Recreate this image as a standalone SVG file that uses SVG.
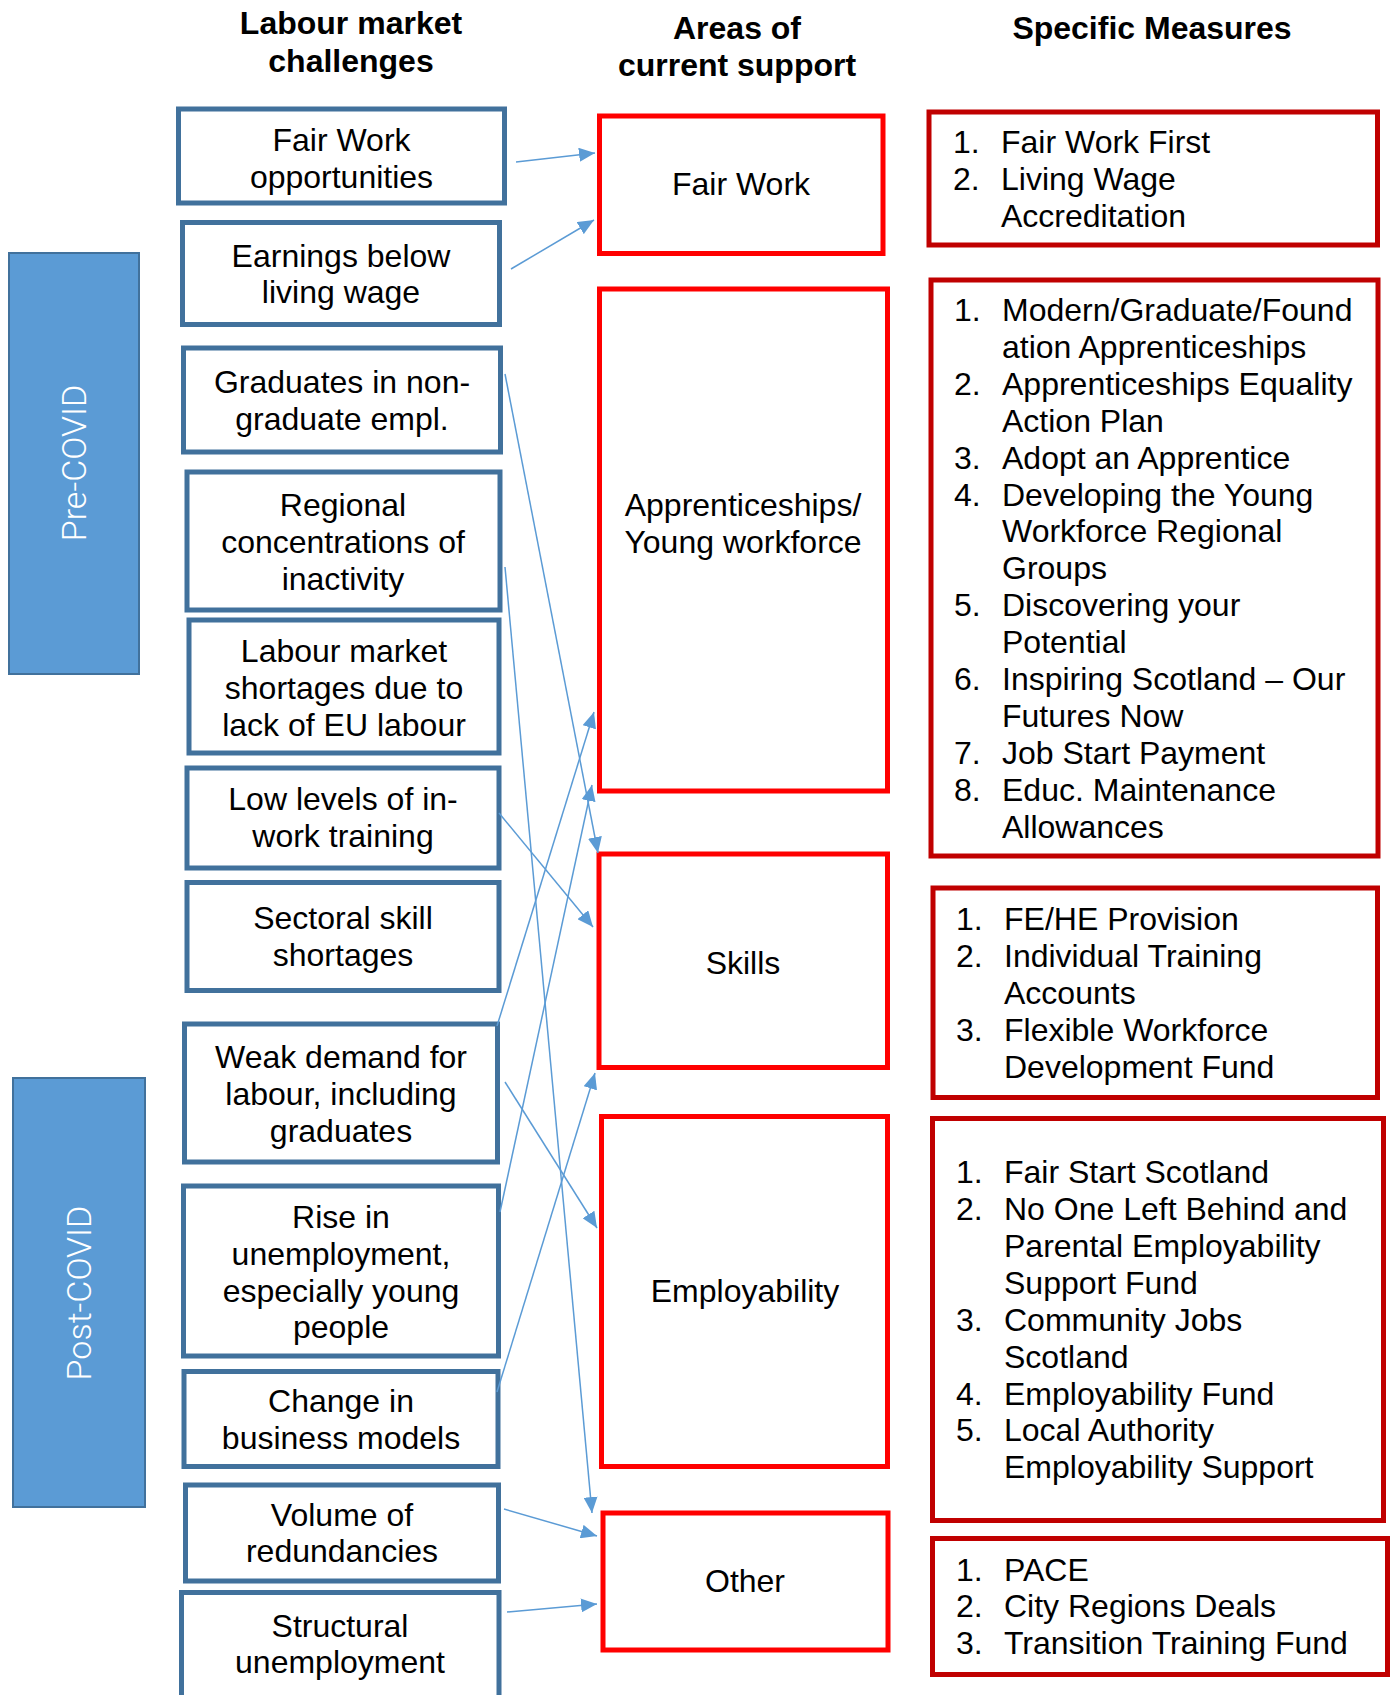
<svg xmlns="http://www.w3.org/2000/svg" width="1392" height="1695" viewBox="0 0 1392 1695">
<defs>
<style>
text{font-family:"Liberation Sans",Arial,sans-serif;font-size:32px;fill:#000}
.h{font-weight:bold;text-anchor:middle}
.c{text-anchor:middle}
.lb{fill:#fff;stroke:#41719C;stroke-width:5}
.mb{fill:#fff;stroke:#FF0000;stroke-width:5}
.rb{fill:#fff;stroke:#C00000;stroke-width:5}
.side{fill:#5B9BD5;stroke:#41719C;stroke-width:2}
.sidet{font-family:Roboto,"Liberation Sans",sans-serif;font-weight:300;font-size:34px;fill:#fff;text-anchor:middle}
.con line{stroke:#5B9BD5;stroke-width:1.5;fill:none;marker-end:url(#ah)}
</style>
<marker id="ah" markerUnits="userSpaceOnUse" markerWidth="16" markerHeight="14" refX="16" refY="7" orient="auto">
<path d="M0,0 L16,7 L0,14 Z" fill="#5B9BD5"/>
</marker>
</defs>
<rect width="1392" height="1695" fill="#fff"/>

<g id="headers">
<text class="h" x="351" y="34">Labour market</text>
<text class="h" x="351" y="72">challenges</text>
<text class="h" x="737" y="39">Areas of</text>
<text class="h" x="737" y="76">current support</text>
<text class="h" x="1152" y="39">Specific Measures</text>
</g>

<g id="pre-covid">
<rect class="side" x="9" y="253" width="130" height="421"/>
<text class="sidet" transform="translate(86,463) rotate(-90)">Pre-COVID</text>
</g>
<g id="post-covid">
<rect class="side" x="13" y="1078" width="132" height="429"/>
<text class="sidet" transform="translate(91,1293) rotate(-90)">Post-COVID</text>
</g>

<g id="c1"><rect class="lb" x="178.5" y="109" width="326" height="94"/>
<text class="c" x="341.5" y="150.7">Fair Work</text><text class="c" x="341.5" y="187.5">opportunities</text></g>
<g id="c2"><rect class="lb" x="182.5" y="222.5" width="317" height="102"/>
<text class="c" x="341" y="266.7">Earnings below</text><text class="c" x="341" y="303.3">living wage</text></g>
<g id="c3"><rect class="lb" x="183.5" y="348" width="317" height="104"/>
<text class="c" x="342" y="392.5">Graduates in non-</text><text class="c" x="342" y="429.5">graduate empl.</text></g>
<g id="c4"><rect class="lb" x="187" y="472" width="313" height="138"/>
<text class="c" x="343" y="515.7">Regional</text><text class="c" x="343" y="553">concentrations of</text><text class="c" x="343" y="590">inactivity</text></g>
<g id="c5"><rect class="lb" x="189" y="620" width="310" height="133"/>
<text class="c" x="344" y="662">Labour market</text><text class="c" x="344" y="699">shortages due to</text><text class="c" x="344" y="736.4">lack of EU labour</text></g>
<g id="c6"><rect class="lb" x="187" y="768" width="312" height="100"/>
<text class="c" x="343" y="810.4">Low levels of in-</text><text class="c" x="343" y="847.1">work training</text></g>
<g id="c7"><rect class="lb" x="187" y="882.5" width="312" height="108"/>
<text class="c" x="343" y="929">Sectoral skill</text><text class="c" x="343" y="965.7">shortages</text></g>
<g id="c8"><rect class="lb" x="184.5" y="1024" width="313" height="138"/>
<text class="c" x="341" y="1068.3">Weak demand for</text><text class="c" x="341" y="1105">labour, including</text><text class="c" x="341" y="1141.5">graduates</text></g>
<g id="c9"><rect class="lb" x="183.5" y="1186" width="315" height="170"/>
<text class="c" x="341" y="1228.3">Rise in</text><text class="c" x="341" y="1265">unemployment,</text><text class="c" x="341" y="1301.7">especially young</text><text class="c" x="341" y="1338.3">people</text></g>
<g id="c10"><rect class="lb" x="184" y="1371.5" width="314" height="95"/>
<text class="c" x="341" y="1412.3">Change in</text><text class="c" x="341" y="1448.5">business models</text></g>
<g id="c11"><rect class="lb" x="185.5" y="1485" width="313" height="96"/>
<text class="c" x="342" y="1525.7">Volume of</text><text class="c" x="342" y="1561.7">redundancies</text></g>
<g id="c12"><rect class="lb" x="181.5" y="1592.5" width="317.5" height="130"/>
<text class="c" x="340" y="1637.3">Structural</text><text class="c" x="340" y="1673.3">unemployment</text></g>

<g id="a1"><rect class="mb" x="599.5" y="116" width="283.5" height="137.5"/>
<text class="c" x="741" y="195">Fair Work</text></g>
<g id="a2"><rect class="mb" x="599.5" y="289" width="288" height="502"/>
<text class="c" x="743" y="516">Apprenticeships/</text><text class="c" x="743" y="553">Young workforce</text></g>
<g id="a3"><rect class="mb" x="599" y="854" width="288.5" height="213.5"/>
<text class="c" x="743" y="973.5">Skills</text></g>
<g id="a4"><rect class="mb" x="601.5" y="1116.5" width="286" height="350"/>
<text class="c" x="745" y="1302.3">Employability</text></g>
<g id="a5"><rect class="mb" x="603" y="1513" width="285" height="137"/>
<text class="c" x="745" y="1592.3">Other</text></g>

<g id="m1"><rect class="rb" x="929" y="112" width="448.5" height="133"/>
<text x="953" y="153.3">1.</text><text x="1001" y="153.3">Fair Work First</text>
<text x="953" y="190">2.</text><text x="1001" y="190">Living Wage</text>
<text x="1001" y="227">Accreditation</text></g>

<g id="m2"><rect class="rb" x="931" y="280" width="447" height="576"/>
<text x="954" y="321">1.</text><text x="1002" y="321">Modern/Graduate/Found</text>
<text x="1002" y="357.9">ation Apprenticeships</text>
<text x="954" y="394.8">2.</text><text x="1002" y="394.8">Apprenticeships Equality</text>
<text x="1002" y="431.7">Action Plan</text>
<text x="954" y="468.6">3.</text><text x="1002" y="468.6">Adopt an Apprentice</text>
<text x="954" y="505.5">4.</text><text x="1002" y="505.5">Developing the Young</text>
<text x="1002" y="542.4">Workforce Regional</text>
<text x="1002" y="579.3">Groups</text>
<text x="954" y="616.2">5.</text><text x="1002" y="616.2">Discovering your</text>
<text x="1002" y="653.1">Potential</text>
<text x="954" y="690">6.</text><text x="1002" y="690">Inspiring Scotland – Our</text>
<text x="1002" y="726.9">Futures Now</text>
<text x="954" y="763.8">7.</text><text x="1002" y="763.8">Job Start Payment</text>
<text x="954" y="800.7">8.</text><text x="1002" y="800.7">Educ. Maintenance</text>
<text x="1002" y="837.6">Allowances</text></g>

<g id="m3"><rect class="rb" x="933" y="888" width="444.5" height="209.5"/>
<text x="956" y="930">1.</text><text x="1004" y="930">FE/HE Provision</text>
<text x="956" y="966.9">2.</text><text x="1004" y="966.9">Individual Training</text>
<text x="1004" y="1003.8">Accounts</text>
<text x="956" y="1040.7">3.</text><text x="1004" y="1040.7">Flexible Workforce</text>
<text x="1004" y="1077.6">Development Fund</text></g>

<g id="m4"><rect class="rb" x="932.5" y="1118.5" width="451" height="402"/>
<text x="956" y="1183.3">1.</text><text x="1004" y="1183.3">Fair Start Scotland</text>
<text x="956" y="1220.2">2.</text><text x="1004" y="1220.2">No One Left Behind and</text>
<text x="1004" y="1257">Parental Employability</text>
<text x="1004" y="1293.9">Support Fund</text>
<text x="956" y="1330.8">3.</text><text x="1004" y="1330.8">Community Jobs</text>
<text x="1004" y="1367.6">Scotland</text>
<text x="956" y="1404.5">4.</text><text x="1004" y="1404.5">Employability Fund</text>
<text x="956" y="1441.4">5.</text><text x="1004" y="1441.4">Local Authority</text>
<text x="1004" y="1478.2">Employability Support</text></g>

<g id="m5"><rect class="rb" x="932.5" y="1538.5" width="455" height="136"/>
<text x="956" y="1580.7">1.</text><text x="1004" y="1580.7">PACE</text>
<text x="956" y="1617.3">2.</text><text x="1004" y="1617.3">City Regions Deals</text>
<text x="956" y="1654">3.</text><text x="1004" y="1654">Transition Training Fund</text></g>

<g id="connectors" class="con">
<line x1="516" y1="162" x2="595" y2="153"/>
<line x1="511" y1="269" x2="594" y2="220"/>
<line x1="505" y1="374" x2="598" y2="853"/>
<line x1="505" y1="567" x2="592" y2="1513"/>
<line x1="499" y1="813" x2="593" y2="927"/>
<line x1="497" y1="1026" x2="594" y2="712"/>
<line x1="505" y1="1082" x2="597" y2="1228"/>
<line x1="500" y1="1212" x2="592" y2="785"/>
<line x1="497" y1="1392" x2="595" y2="1073"/>
<line x1="504" y1="1509" x2="597" y2="1536"/>
<line x1="507" y1="1612" x2="597" y2="1604"/>
</g>
</svg>
